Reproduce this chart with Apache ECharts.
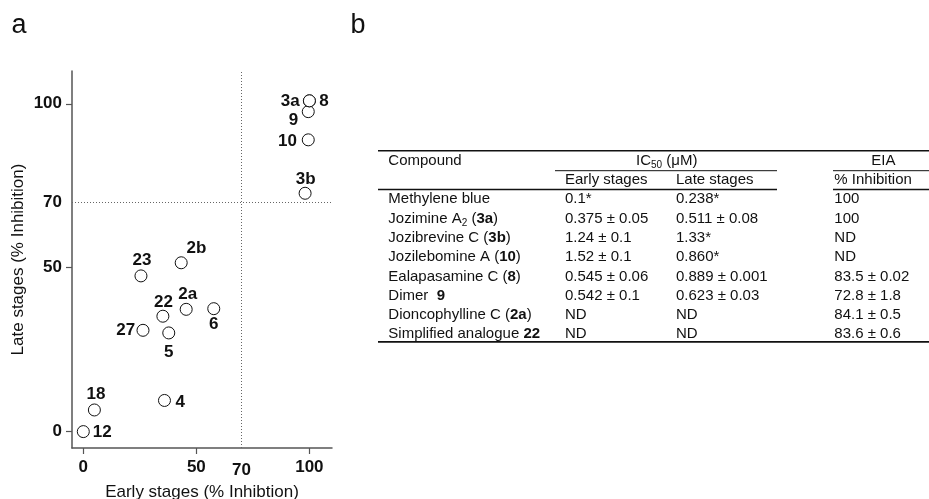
<!DOCTYPE html>
<html>
<head>
<meta charset="utf-8">
<script src="https://cdn.jsdelivr.net/npm/echarts@6/dist/echarts.min.js"></script>
<style>html,body{margin:0;padding:0;background:#fff}#c{width:929px;height:499px}</style>
</head>
<body>
<div id="c"></div>
<script>
// ---- scatter data (panel a) ----
const compoundIds = ['12','18','4','27','5','22','2a','6','23','2b','3b','10','9','3a','8'];
const earlyInhibition = [0, 4.9, 35.9, 26.4, 37.8, 35.2, 45.5, 57.7, 25.5, 43.3, 98.1, 99.5, 99.5, 100, 100];
const lateInhibition  = [0, 6.6, 9.5, 30.9, 30.1, 35.2, 37.3, 37.5, 47.5, 51.5, 72.7, 89.0, 97.6, 100.9, 100.9];
const xTickValues = [0, 50, 100];
const xLabelValues = [0, 50, 70, 100];
const yTickValues = [0, 50, 100];
const yLabelValues = [0, 50, 70, 100];
const thresholdValue = 70;

// ---- table data (panel b) ----
const tableHeader = ['Compound', 'IC{s|50} (\u03bcM)', 'EIA'];
const tableSubHeader = ['Early stages', 'Late stages', '% Inhibition'];
const compoundLabels = ['Methylene blue', 'Jozimine A{s|2} ({b|3a})', 'Jozibrevine C ({b|3b})', 'Jozilebomine A ({b|10})',
  'Ealapasamine C ({b|8})', 'Dimer  {b|9}', 'Dioncophylline C ({b|2a})', 'Simplified analogue {b|22}'];
const ic50Early = ['0.1*', '0.375 \u00b1 0.05', '1.24 \u00b1 0.1', '1.52 \u00b1 0.1', '0.545 \u00b1 0.06', '0.542 \u00b1 0.1', 'ND', 'ND'];
const ic50Late = ['0.238*', '0.511 \u00b1 0.08', '1.33*', '0.860*', '0.889 \u00b1 0.001', '0.623 \u00b1 0.03', 'ND', 'ND'];
const eiaInhibition = ['100', '100', 'ND', 'ND', '83.5 \u00b1 0.02', '72.8 \u00b1 1.8', '84.1 \u00b1 0.5', '83.6 \u00b1 0.6'];

// ---- styling (label placement in px relative to the marker) ----
const labelOffsets = {
  '12':[19,1], '18':[1.5,-15.7], '4':[15.7,1.4], '27':[-17.2,0], '5':[0,19], '22':[0.6,-14.3],
  '2a':[1.5,-14.7], '6':[0,15.7], '23':[1,-15.7], '2b':[15.3,-14], '3b':[0.5,-13.7],
  '10':[-20.7,1.7], '9':[-14.8,9], '3a':[-19.2,0], '8':[14.5,0]
};
const FF = '"Liberation Sans", Arial, Helvetica, sans-serif';
const axisCol = '#555';

const chart = echarts.init(document.getElementById('c'), null, {renderer: 'canvas'});

const points = compoundIds.map((id, i) => ({
  name: id,
  value: [earlyInhibition[i], lateInhibition[i]],
  label: {offset: labelOffsets[id]}
}));

// table graphic
const richStyles = {
  s: {fontSize: 10, fontFamily: FF, verticalAlign: 'bottom', lineHeight: 12, padding: [0, 0, -2, 0], fill: '#111', color: '#111'},
  b: {fontSize: 15, fontFamily: FF, fontWeight: 'bold', fill: '#111', color: '#111'}
};
function txt(x, y, text, align) {
  return {
    type: 'text', x: x, y: y, silent: true,
    style: {
      text: text, fill: '#111', font: '15px ' + FF, fontSize: 15, fontFamily: FF,
      textAlign: align || 'left', align: align || 'left',
      textVerticalAlign: 'middle', verticalAlign: 'middle', rich: richStyles
    }
  };
}
function hline(x1, x2, y, w) {
  return {type: 'line', silent: true, shape: {x1: x1, y1: y, x2: x2, y2: y}, style: {stroke: '#111', lineWidth: w}};
}
const colX = [388.3, 565, 676, 834.3];
const rowY0 = 199.3, rowStep = 19.29;
const graphics = [];
graphics.push({type: 'text', x: 11.5, y: 25.5, silent: true, style: {text: 'a', fill: '#111', font: '27px ' + FF, textVerticalAlign: 'middle', verticalAlign: 'middle'}});
graphics.push({type: 'text', x: 350.5, y: 25.5, silent: true, style: {text: 'b', fill: '#111', font: '27px ' + FF, textVerticalAlign: 'middle', verticalAlign: 'middle'}});
graphics.push(hline(378, 929, 150.7, 1.5));
graphics.push(hline(555, 777, 170.7, 1));
graphics.push(hline(833, 929, 170.7, 1));
graphics.push(hline(378, 777, 189.5, 1.6));
graphics.push(hline(833, 929, 189.5, 1.6));
graphics.push(hline(378, 929, 341.8, 1.8));
graphics.push(txt(colX[0], 160.7, tableHeader[0]));
graphics.push(txt(636, 160.7, tableHeader[1]));
graphics.push(txt(883.3, 160.7, tableHeader[2], 'center'));
graphics.push(txt(colX[1], 180, tableSubHeader[0]));
graphics.push(txt(colX[2], 180, tableSubHeader[1]));
graphics.push(txt(colX[3], 180, tableSubHeader[2]));
compoundLabels.forEach((c, i) => {
  const y = rowY0 + i * rowStep;
  graphics.push(txt(colX[0], y, c));
  graphics.push(txt(colX[1], y, ic50Early[i]));
  graphics.push(txt(colX[2], y, ic50Late[i]));
  graphics.push(txt(colX[3], y, eiaInhibition[i]));
});

const option = {
  animation: false,
  backgroundColor: '#fff',
  grid: {left: 72, right: 597, top: 71, bottom: 51, containLabel: false, outerBoundsMode: 'none'},
  xAxis: {
    type: 'value', min: -5, max: 110,
    name: 'Early stages (% Inhibtion)', nameLocation: 'middle', nameGap: 33,
    nameTextStyle: {fontFamily: FF, fontSize: 17, color: '#111'},
    axisLine: {show: true, onZero: false, lineStyle: {color: axisCol, width: 1.5}},
    axisTick: {show: true, inside: false, length: 6, customValues: xTickValues, lineStyle: {color: axisCol, width: 1.2}},
    axisLabel: {
      customValues: xLabelValues, margin: 11,
      fontFamily: FF, fontSize: 17, fontWeight: 'bold', color: '#111',
      formatter: v => (v === thresholdValue ? '{l|' + v + '}' : String(v)),
      rich: {l: {fontFamily: FF, fontSize: 17, fontWeight: 'bold', color: '#111', padding: [3, 0, 0, 0]}}
    },
    splitLine: {show: false}
  },
  yAxis: {
    type: 'value', min: -5, max: 110,
    name: 'Late stages (% Inhibition)', nameLocation: 'middle', nameGap: 45,
    nameTextStyle: {fontFamily: FF, fontSize: 17, color: '#111'},
    axisLine: {show: true, onZero: false, lineStyle: {color: axisCol, width: 1.5}},
    axisTick: {show: true, inside: false, length: 6, customValues: yTickValues, lineStyle: {color: axisCol, width: 1.2}},
    axisLabel: {customValues: yLabelValues, margin: 10, fontFamily: FF, fontSize: 17, fontWeight: 'bold', color: '#111'},
    splitLine: {show: false}
  },
  series: [{
    type: 'scatter',
    data: points,
    symbol: 'circle', symbolSize: 12,
    itemStyle: {color: '#fff', borderColor: '#111', borderWidth: 1, opacity: 1},
    label: {
      show: true, position: 'inside', formatter: p => p.name,
      fontFamily: FF, fontSize: 17, fontWeight: 'bold', color: '#111',
      align: 'center', verticalAlign: 'middle'
    },
    emphasis: {disabled: true},
    markLine: {
      silent: true, symbol: 'none', animation: false,
      label: {show: false},
      lineStyle: {color: '#666', width: 1, type: [1, 2]},
      data: [{xAxis: thresholdValue}, {yAxis: thresholdValue}]
    },
    z: 3
  }],
  graphic: graphics
};
chart.setOption(option);
</script>
</body>
</html>
